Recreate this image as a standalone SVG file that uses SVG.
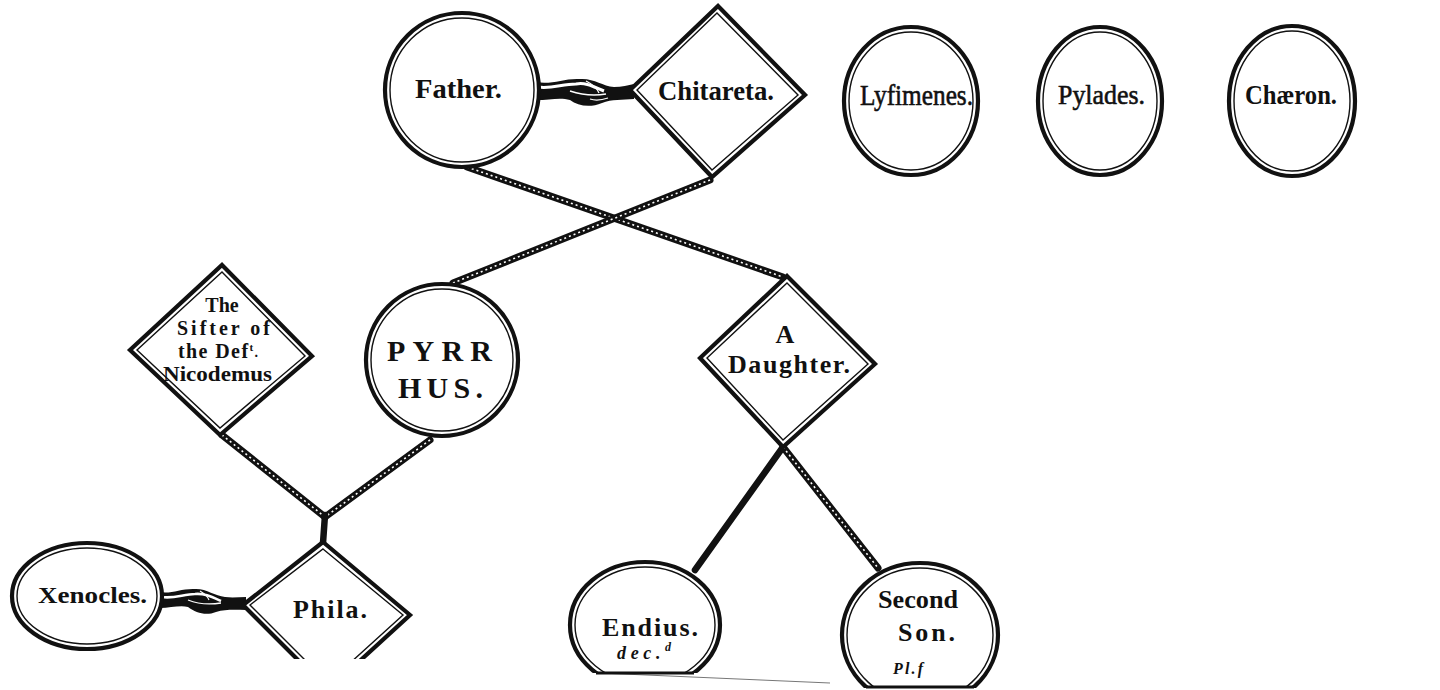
<svg xmlns="http://www.w3.org/2000/svg" width="1440" height="690" viewBox="0 0 1440 690">
  <defs>
    <style>
      .rope { stroke: #111; stroke-width: 7; stroke-linecap: round; fill: none; }
      .rope-hl { stroke: #fff; stroke-width: 1.6; stroke-dasharray: 2 3; fill: none; }
      .solid { stroke: #111; stroke-width: 6.5; stroke-linecap: round; fill: none; }
      .outer { fill: #fff; stroke: #111; stroke-width: 4.2; stroke-linejoin: miter; }
      .inner { fill: none; stroke: #111; stroke-width: 1.4; stroke-linejoin: miter; }
      .lbl { font-family: "Liberation Serif", "Times New Roman", serif; fill: #111; font-weight: bold; }
      .lbl-r { font-family: "Liberation Serif", "Times New Roman", serif; fill: #111; stroke: #111; stroke-width: 0.6; }
      .note { font-family: "Liberation Serif", "Times New Roman", serif; font-style: italic; font-weight: bold; fill: #111; }
    </style>
    <clipPath id="clip-phila"><rect x="0" y="0" width="1440" height="659"/></clipPath>
    <clipPath id="clip-endius"><rect x="0" y="0" width="1440" height="673"/></clipPath>
    <clipPath id="clip-son"><rect x="0" y="0" width="1440" height="688"/></clipPath>
  </defs>
  <rect width="1440" height="690" fill="#fff"/>

  <!-- descent lines (braided cords) -->
  <g id="connectors">
    <line class="rope" x1="467" y1="167" x2="783" y2="277"/>
    <line class="rope-hl" x1="467" y1="167" x2="783" y2="277"/>
    <line class="rope" x1="710" y1="180" x2="453" y2="283"/>
    <line class="rope-hl" x1="710" y1="180" x2="453" y2="283"/>
    <line class="rope" x1="222" y1="435" x2="325" y2="517"/>
    <line class="rope-hl" x1="222" y1="435" x2="325" y2="517"/>
    <line class="rope" x1="430" y1="440" x2="325" y2="517"/>
    <line class="rope-hl" x1="430" y1="440" x2="325" y2="517"/>
    <line class="solid" x1="325" y1="515" x2="323" y2="543"/>
    <line class="solid" x1="783" y1="447" x2="695" y2="570"/>
    <line class="rope" x1="783" y1="447" x2="878" y2="568"/>
    <line class="rope-hl" x1="783" y1="447" x2="878" y2="568"/>
    <!-- clasped hands: Father & Chitareta -->
    <g id="clasp-top">
      <path d="M536,82 C552,85 564,78 580,79 C594,78 602,86 614,87 C622,87 628,85 634,84 L634,99 C622,100 612,99 602,103 C590,108 578,106 570,100 C560,97 550,100 536,100 Z" fill="#111"/>
      <path d="M538,87 C552,89 562,84 576,84 C586,82 594,87 604,91" stroke="#fff" stroke-width="3" fill="none"/>
      <path d="M570,91 C582,95 594,96 606,94" stroke="#fff" stroke-width="1.5" fill="none"/>
      <path d="M586,81 C592,84 597,88 599,93" stroke="#fff" stroke-width="1.3" fill="none"/>
      <path d="M590,99 C596,101 602,100 608,98" stroke="#fff" stroke-width="1.2" fill="none"/>
    </g>
    <!-- clasped hands: Xenocles & Phila -->
    <g id="clasp-bottom">
      <path d="M160,592 C172,594 182,588 196,589 C207,589 215,596 225,597 C233,598 239,597 246,597 L246,610 C236,610 226,609 216,612 C206,616 196,613 188,607 C180,605 170,608 160,608 Z" fill="#111"/>
      <path d="M162,597 C174,599 184,594 195,594 C204,593 212,597 221,601" stroke="#fff" stroke-width="2.6" fill="none"/>
      <path d="M188,600 C198,604 208,605 221,603" stroke="#fff" stroke-width="1.3" fill="none"/>
      <path d="M200,591 C205,594 208,597 209,600" stroke="#fff" stroke-width="1.1" fill="none"/>
    </g>
    <!-- stray rule under the grandsons -->
    <line x1="600" y1="673" x2="830" y2="683" stroke="#777" stroke-width="1"/>
  </g>

  <!-- first generation -->
  <g id="father">
    <circle class="outer" cx="462" cy="90" r="77"/>
    <circle class="inner" cx="462" cy="90" r="72"/>
    <text class="lbl" x="415" y="98" font-size="28" textLength="87" lengthAdjust="spacingAndGlyphs">Father.</text>
  </g>
  <g id="chitareta">
    <polygon class="outer" points="718,6 805,95 712,177 630,90"/>
    <polygon class="inner" points="717,13 798,95 712,170 637,90"/>
    <text class="lbl" x="658" y="100" font-size="27" textLength="116" lengthAdjust="spacingAndGlyphs">Chitareta.</text>
  </g>
  <g id="lysimenes">
    <ellipse class="outer" cx="911" cy="101" rx="67" ry="74"/>
    <ellipse class="inner" cx="911" cy="101" rx="62" ry="69"/>
    <text class="lbl-r" x="860" y="105" font-size="30" textLength="113" lengthAdjust="spacingAndGlyphs">Lyfimenes.</text>
  </g>
  <g id="pylades">
    <ellipse class="outer" cx="1100" cy="101" rx="62" ry="74"/>
    <ellipse class="inner" cx="1100" cy="101" rx="57" ry="69"/>
    <text class="lbl-r" x="1058" y="104" font-size="28" textLength="87" lengthAdjust="spacingAndGlyphs">Pylades.</text>
  </g>
  <g id="chaeron">
    <ellipse class="outer" cx="1292" cy="101" rx="63" ry="75"/>
    <ellipse class="inner" cx="1292" cy="101" rx="58" ry="70"/>
    <text class="lbl" x="1245" y="104" font-size="27" textLength="92" lengthAdjust="spacingAndGlyphs">Chæron.</text>
  </g>

  <!-- second generation -->
  <g id="sister-nicodemus">
    <polygon class="outer" points="222,265 312,356 220,435 130,350"/>
    <polygon class="inner" points="222,272 305,356 220,428 137,350"/>
    <text class="lbl" x="222" y="312" font-size="20" text-anchor="middle">The</text>
    <text class="lbl" x="177" y="335" font-size="20" textLength="93" lengthAdjust="spacing">Sifter of</text>
    <text class="lbl" x="178" y="358" font-size="20" textLength="80" lengthAdjust="spacing">the Def<tspan font-size="11" dy="-7">t</tspan><tspan font-size="14" dy="6">.</tspan></text>
    <text class="lbl" x="163" y="381" font-size="20" textLength="109" lengthAdjust="spacingAndGlyphs">Nicodemus</text>
  </g>
  <g id="pyrrhus">
    <circle class="outer" cx="442" cy="360" r="76"/>
    <circle class="inner" cx="442" cy="360" r="71"/>
    <text class="lbl" x="387" y="361" font-size="30" textLength="105" lengthAdjust="spacing">PYRR</text>
    <text class="lbl" x="398" y="398" font-size="30" textLength="85" lengthAdjust="spacing">HUS.</text>
  </g>
  <g id="daughter">
    <polygon class="outer" points="787,276 875,364 783,447 700,358"/>
    <polygon class="inner" points="787,283 868,364 783,440 707,358"/>
    <text class="lbl" x="785" y="343" font-size="26" text-anchor="middle">A</text>
    <text class="lbl" x="728" y="373" font-size="26" textLength="122" lengthAdjust="spacing">Daughter.</text>
  </g>

  <!-- third generation -->
  <g id="xenocles">
    <ellipse class="outer" cx="87" cy="596" rx="75" ry="53"/>
    <ellipse class="inner" cx="87" cy="596" rx="70" ry="48"/>
    <text class="lbl" x="38" y="603" font-size="24" textLength="109" lengthAdjust="spacingAndGlyphs">Xenocles.</text>
  </g>
  <g id="phila" clip-path="url(#clip-phila)">
    <polygon class="outer" points="323,542 410,615 328,690 243,605"/>
    <polygon class="inner" points="323,549 403,615 328,683 250,605"/>
    <text class="lbl" x="293" y="618" font-size="26" textLength="74" lengthAdjust="spacing">Phila.</text>
  </g>
  <g id="endius">
    <g clip-path="url(#clip-endius)">
      <ellipse class="outer" cx="645" cy="625" rx="75" ry="63"/>
      <ellipse class="inner" cx="645" cy="625" rx="70" ry="58"/>
    </g>
    <line x1="596" y1="673" x2="694" y2="673" stroke="#111" stroke-width="3"/>
    <text class="lbl" x="602" y="636" font-size="26" textLength="96" lengthAdjust="spacing">Endius.</text>
    <text class="note" x="617" y="659" font-size="18" textLength="54" lengthAdjust="spacing">dec.<tspan font-size="12" dy="-8">d</tspan></text>
  </g>
  <g id="second-son">
    <g clip-path="url(#clip-son)">
      <ellipse class="outer" cx="920" cy="635" rx="78" ry="72"/>
      <ellipse class="inner" cx="920" cy="635" rx="73" ry="67"/>
    </g>
    <line x1="866" y1="687" x2="974" y2="687" stroke="#111" stroke-width="3"/>
    <text class="lbl" x="878" y="608" font-size="26" textLength="80" lengthAdjust="spacingAndGlyphs">Second</text>
    <text class="lbl" x="898" y="641" font-size="26" textLength="57" lengthAdjust="spacing">Son.</text>
    <text class="note" x="893" y="674" font-size="16" textLength="30" lengthAdjust="spacing">Pl.f</text>
  </g>
</svg>
